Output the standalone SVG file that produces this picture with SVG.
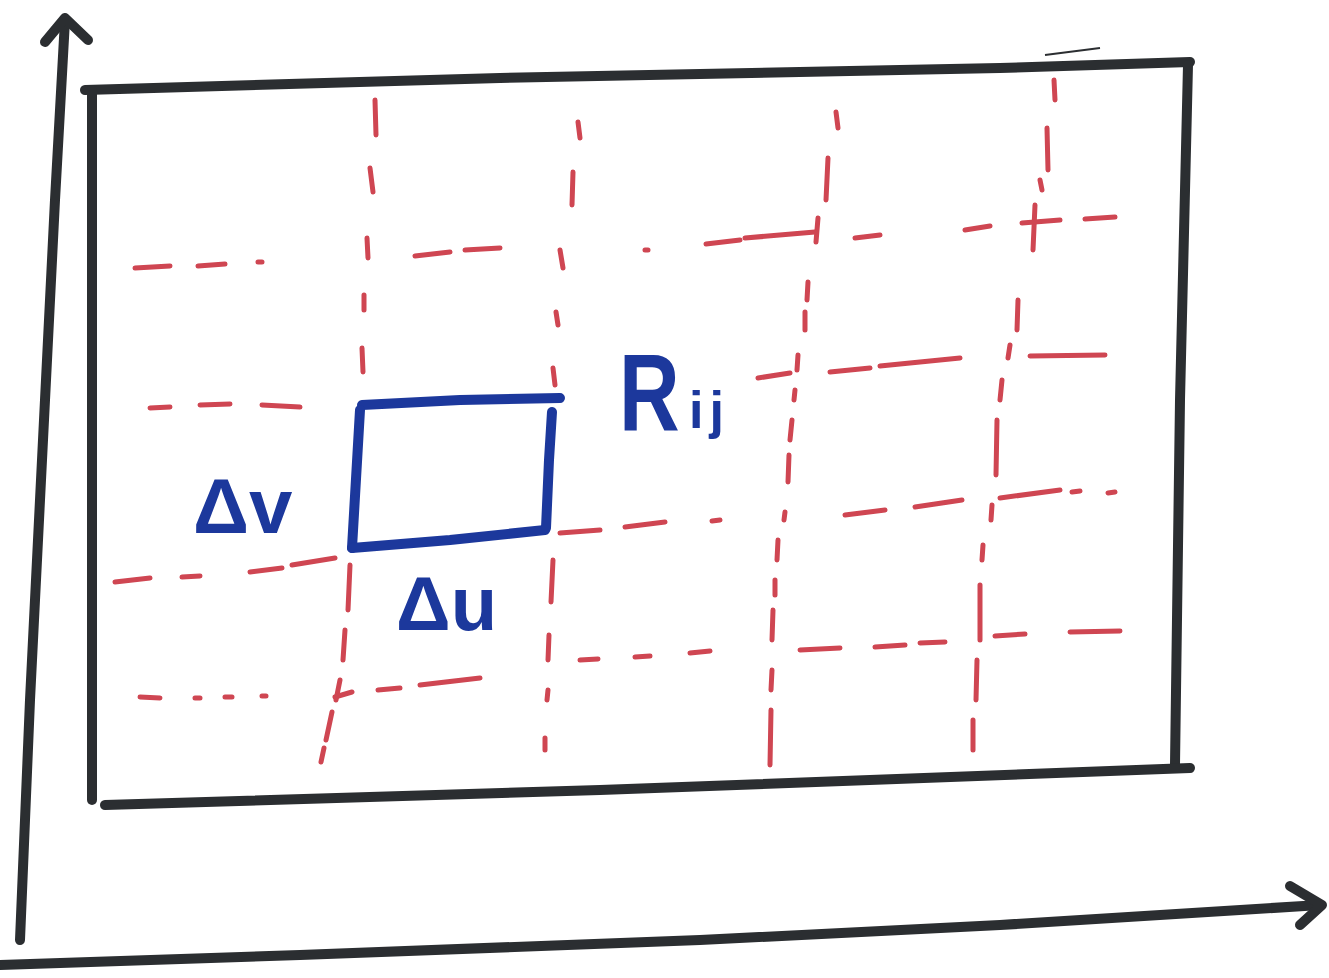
<svg xmlns="http://www.w3.org/2000/svg" width="1329" height="978" viewBox="0 0 1329 978">
<style>
.ink{fill:none;stroke:#2b2e31;stroke-width:10;stroke-linecap:round;stroke-linejoin:round}
.grid{fill:none;stroke:#cf4652;stroke-width:5;stroke-linecap:round}
.cell{fill:none;stroke:#1c389c;stroke-width:10;stroke-linecap:round;stroke-linejoin:round}
.lbl{fill:#1c389c;font-family:"Liberation Sans",Arial,sans-serif;font-weight:bold}
</style>
<rect width="1329" height="978" fill="#ffffff"/>
<g id="axes">
<path class="ink" d="M20 940 L30 700 L45 400 L55 200 L65 20"/>
<path class="ink" d="M45 42 L65 18 L88 40"/>
<path class="ink" d="M0 965 L300 955 L700 940 L1000 925 L1320 905"/>
<path class="ink" d="M1290 886 L1322 905 L1300 925"/>
</g>
<g id="frame">
<path class="ink" d="M85 90 L500 78 L1000 68 L1190 62"/>
<path class="ink" d="M1188 65 L1180 400 L1175 765"/>
<path class="ink" d="M105 805 L600 790 L1190 768"/>
<path class="ink" d="M92 90 L92 800"/>
<path fill="none" stroke="#2b2e31" stroke-width="2" d="M1045 55 L1100 48"/>
</g>
<g id="grid">
<path class="grid" d="M375 100 L376 135 M370 168 L373 192 M367 238 L368 258 M364 295 L364 310 M362 348 L363 372 M350 565 L348 610 M345 630 L343 660 M340 680 L336 700 M332 712 L326 740 M324 748 L321 762"/>
<path class="grid" d="M578 122 L580 138 M573 172 L572 205 M560 250 L563 268 M556 312 L558 325 M553 368 L555 385 M553 560 L551 602 M549 635 L548 660 M548 690 L547 700 M545 738 L545 750"/>
<path class="grid" d="M836 112 L838 128 M828 158 L826 200 M818 218 L816 242 M808 282 L807 300 M805 312 L805 330 M798 355 L797 370 M795 390 L794 400 M792 420 L790 440 M789 455 L788 482 M785 512 L784 520 M778 540 L777 560 M775 580 L775 595 M773 610 L772 640 M772 670 L771 690 M771 710 L770 765"/>
<path class="grid" d="M1054 80 L1055 100 M1047 128 L1048 170 M1040 180 L1042 190 M1035 205 L1033 250 M1018 300 L1017 330 M1010 345 L1008 358 M1002 380 L1000 400 M997 420 L996 475 M992 505 L991 520 M983 545 L982 560 M980 585 L980 640 M977 660 L976 700 M973 720 L973 750"/>
<path class="grid" d="M135 268 L170 266 M198 266 L225 264 M258 262 L262 262 M415 256 L450 252 M465 250 L500 248 M645 250 L648 250 M706 244 L740 240 M745 238 L815 232 M855 238 L880 235 M965 230 L990 226 M1022 223 L1060 220 M1085 219 L1115 217"/>
<path class="grid" d="M150 408 L170 407 M200 405 L230 404 M262 405 L300 407 M758 378 L790 373 M830 372 L870 368 M880 366 L960 358 M1030 356 L1105 355"/>
<path class="grid" d="M115 582 L150 578 M182 577 L200 576 M250 572 L282 568 M292 565 L335 558 M560 533 L600 530 M625 527 L665 522 M712 521 L720 520 M845 515 L885 510 M915 507 L962 500 M1000 498 L1060 490 M1072 492 L1080 491 M1108 493 L1115 492"/>
<path class="grid" d="M580 660 L598 659 M635 657 L650 656 M690 653 L710 651 M800 650 L840 648 M875 647 L905 645 M920 643 L945 642 M995 636 L1025 634 M1070 632 L1120 631"/>
<path class="grid" d="M140 697 L160 698 M195 698 L200 698 M225 697 L232 697 M262 696 L266 696 M335 697 L352 692 M378 690 L400 688 M420 685 L480 678"/>
</g>
<g id="cell">
<path class="cell" d="M362 405 L460 400 L560 398"/>
<path class="cell" d="M360 410 L352 548"/>
<path class="cell" d="M352 548 L450 540 L545 530"/>
<path class="cell" d="M552 412 L549 460 L546 528"/>
</g>
<g id="labels">
<text class="lbl" x="193" y="533" font-size="78">Δv</text>
<text class="lbl" x="396" y="630" font-size="76">Δu</text>
<text class="lbl" transform="translate(619,431) scale(1,1.3)" font-size="84">R</text>
<text class="lbl" x="689" y="428" font-size="52" letter-spacing="6">ij</text>
</g>
</svg>
